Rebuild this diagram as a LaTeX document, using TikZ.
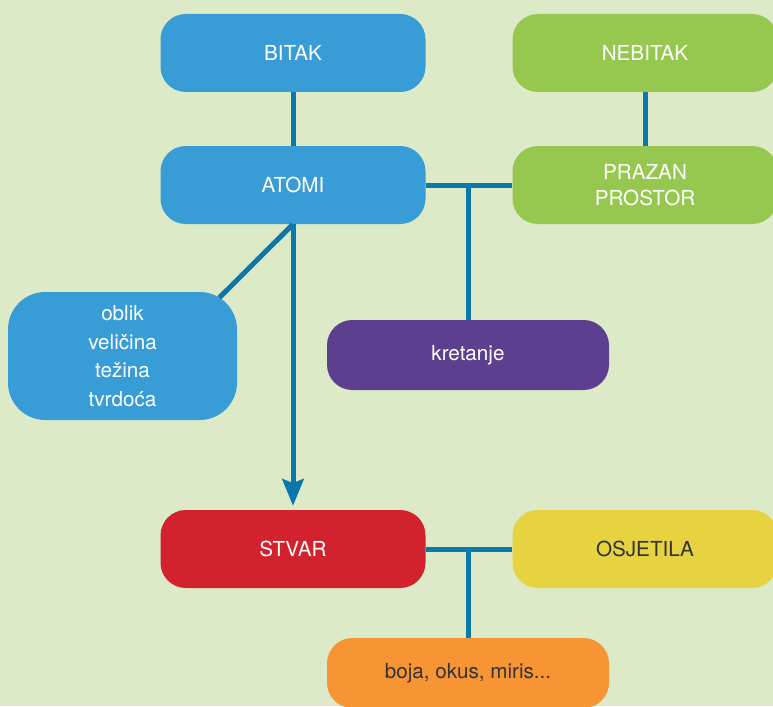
\documentclass[tikz,border=0pt]{standalone}
\usepackage{fontspec}
\setmainfont{TeX Gyre Heros}
\usetikzlibrary{arrows.meta,calc}

\definecolor{pagegreen}{HTML}{DCEAC8}
\definecolor{boxblue}{HTML}{389CD7}
\definecolor{boxgreen}{HTML}{96C84F}
\definecolor{boxpurple}{HTML}{5C3F8F}
\definecolor{boxred}{HTML}{D2222D}
\definecolor{boxyellow}{HTML}{E7D33F}
\definecolor{boxorange}{HTML}{F79433}
\definecolor{linkblue}{HTML}{0A78AA}
\definecolor{darktext}{HTML}{333333}

\tikzset{
  box/.style={rectangle, rounded corners=19pt, inner sep=0pt,
    minimum width=198.75pt, minimum height=58.5pt, text=white,
    align=center, font=\fontsize{15.5}{19}\selectfont},
  wide box/.style={box, minimum width=211.5pt, minimum height=52.5pt},
  link/.style={draw=linkblue, line width=3.75pt}
}

\begin{document}
\begin{tikzpicture}[x=0.75pt, y=-0.75pt, node distance=264pt,
    >={Stealth[width=16pt,length=20pt,inset=3pt]}]
    \useasboundingbox (0,0) rectangle (773,706);
    \fill [pagegreen] (0,0) rectangle (773,706);

    % Nodes
    \node [box, fill=boxblue]   (bitak)    at (293,53)               {BITAK};
    \node [box, fill=boxgreen]  (nebitak)  [right of=bitak]          {NEBITAK};
    \node [box, fill=boxblue]   (atomi)    [below of=bitak, node distance=99pt] {ATOMI};
    \node [box, fill=boxgreen]  (prazan)   [right of=atomi]          {PRAZAN\\PROSTOR};
    \node [box, fill=boxred]    (stvar)    [below of=atomi, node distance=273pt] {STVAR};
    \node [box, fill=boxyellow, text=darktext] (osjetila) [right of=stvar] {OSJETILA};
    \node [box, fill=boxblue, rounded corners=28pt, minimum width=171.75pt,
           minimum height=96pt, font=\fontsize{15.5}{21.5}\selectfont]
                                (oblik)    at (122.5,356)   {oblik\\veličina\\težina\\tvrdoća};
    \node [wide box, fill=boxpurple] (kretanje) at (468,355)     {kretanje};
    \node [wide box, fill=boxorange, text=darktext] (boja) at (468,673) {boja, okus, miris...};

    % Links
    \draw [link] (bitak.south) -- (atomi.north);
    \draw [link] (nebitak.south) -- (prazan.north);
    \draw [link] (atomi.east) -- (prazan.west);
    \draw [link] (kretanje.north) -- (kretanje.north |- atomi.east);
    \draw [link] (stvar.east) -- (osjetila.west);
    \draw [link] (boja.north) -- (boja.north |- stvar.east);
    \draw [link, ->, shorten >=3pt] (atomi.south) -- (stvar.north);
    \coordinate (oblik tip) at ($(oblik.north east)+(-18,6)$);
    \draw [link] (atomi.south) -- (oblik tip);

\end{tikzpicture}
\end{document}
